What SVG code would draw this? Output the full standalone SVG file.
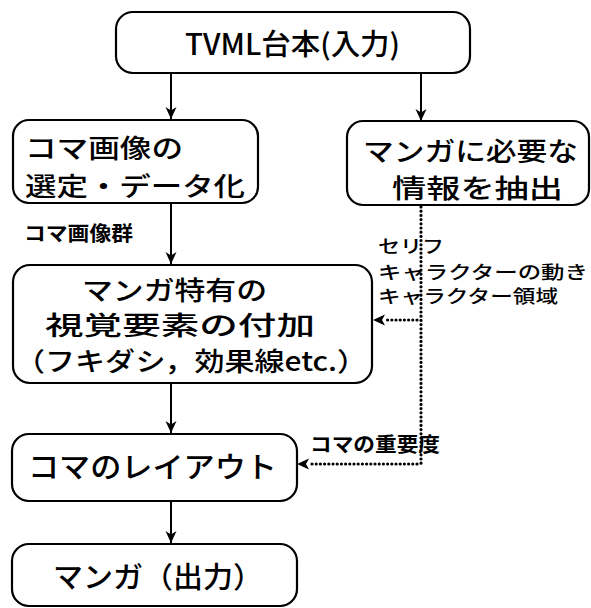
<svg xmlns="http://www.w3.org/2000/svg" width="591" height="608" viewBox="0 0 591 608">
  <defs>
    <marker id="ah" markerUnits="userSpaceOnUse" markerWidth="12" markerHeight="12" viewBox="0 0 12 12" refX="12" refY="6" orient="auto">
      <path d="M0,0.5 L12,6 L0,11.5 L3.5,6 Z" fill="#000"/>
    </marker>
    <style>
      .box { fill: #fff; stroke: #000; stroke-width: 2.2; }
      .t { font-family: "Noto Sans CJK JP", "Noto Sans", sans-serif; font-weight: 500; fill: #000; dominant-baseline: central; }
      .big { font-size: 29px; }
      .mid { font-size: 26px; }
      .lab { font-size: 20px; font-weight: 700; }
      .lab2 { font-size: 18px; font-weight: 500; }
      .solid { stroke: #000; stroke-width: 2; fill: none; }
      .dot { stroke: #000; stroke-width: 3.2; fill: none; stroke-dasharray: 0 4.2; stroke-linecap: round; }
    </style>
  </defs>
  <rect width="591" height="608" fill="#fff"/>

  <g id="connectors">
    <line class="solid" x1="171" y1="73" x2="171" y2="119" marker-end="url(#ah)"/>
    <line class="solid" x1="421" y1="73" x2="421" y2="121" marker-end="url(#ah)"/>
    <line class="solid" x1="171" y1="203" x2="171" y2="264" marker-end="url(#ah)"/>
    <line class="solid" x1="171" y1="383" x2="171" y2="433" marker-end="url(#ah)"/>
    <line class="solid" x1="171" y1="501" x2="171" y2="543" marker-end="url(#ah)"/>
    <line class="dot" x1="421" y1="207" x2="421" y2="465"/>
    <line class="dot" x1="417" y1="320" x2="384" y2="320"/>
    <path d="M373,320 L385,314.5 L382,320 L385,325.5 Z" fill="#000"/>
    <line class="dot" x1="417" y1="464" x2="308" y2="464"/>
    <path d="M297,464 L309,458.5 L306,464 L309,469.5 Z" fill="#000"/>
    <text class="t lab" x="24" y="232" textLength="109" lengthAdjust="spacingAndGlyphs">コマ画像群</text>
    <text class="t lab2" x="378" y="245" textLength="66" lengthAdjust="spacingAndGlyphs">セリフ</text>
    <text class="t lab2" x="378" y="271" textLength="210" lengthAdjust="spacingAndGlyphs">キャラクターの動き</text>
    <text class="t lab2" x="378" y="295" textLength="180" lengthAdjust="spacingAndGlyphs">キャラクター領域</text>
    <text class="t lab" x="310" y="443" textLength="130" lengthAdjust="spacingAndGlyphs">コマの重要度</text>
  </g>

  <g id="node-input">
    <rect class="box" x="116" y="12" width="354" height="61" rx="17"/>
    <text class="t big" x="185" y="42" textLength="215" lengthAdjust="spacingAndGlyphs">TVML台本(入力)</text>
  </g>

  <g id="node-select">
    <rect class="box" x="13" y="120" width="245" height="83" rx="16"/>
    <text class="t mid" x="25" y="146" textLength="158" lengthAdjust="spacingAndGlyphs">コマ画像の</text>
    <text class="t mid" x="25" y="184" textLength="220" lengthAdjust="spacingAndGlyphs">選定・データ化</text>
  </g>

  <g id="node-extract">
    <rect class="box" x="347" y="121" width="242" height="84" rx="16"/>
    <text class="t mid" x="363" y="149" textLength="215" lengthAdjust="spacingAndGlyphs">マンガに必要な</text>
    <text class="t mid" x="392" y="186" textLength="171" lengthAdjust="spacingAndGlyphs">情報を抽出</text>
  </g>

  <g id="node-visual">
    <rect class="box" x="13" y="265" width="359" height="118" rx="17"/>
    <text class="t mid" x="82" y="288" textLength="185" lengthAdjust="spacingAndGlyphs">マンガ特有の</text>
    <text class="t mid" x="45" y="323" textLength="270" lengthAdjust="spacingAndGlyphs">視覚要素の付加</text>
    <text class="t mid" x="15" y="359" textLength="352" lengthAdjust="spacingAndGlyphs">（フキダシ，効果線etc.）</text>
  </g>

  <g id="node-layout">
    <rect class="box" x="12" y="434" width="285" height="67" rx="17"/>
    <text class="t big" x="28" y="465" textLength="249" lengthAdjust="spacingAndGlyphs">コマのレイアウト</text>
  </g>

  <g id="node-output">
    <rect class="box" x="12" y="544" width="285" height="62" rx="17"/>
    <text class="t big" x="53" y="575" textLength="210" lengthAdjust="spacingAndGlyphs">マンガ（出力）</text>
  </g>
</svg>
